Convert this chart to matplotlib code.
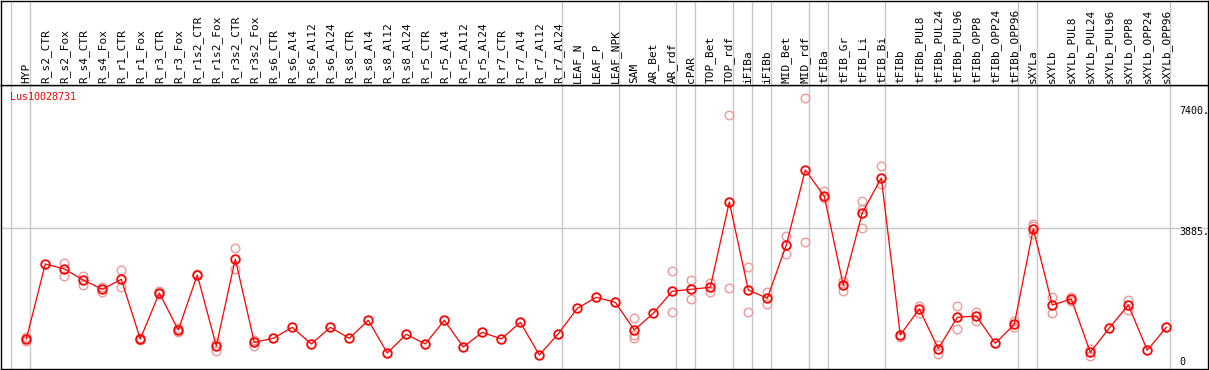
import matplotlib
matplotlib.use("Agg")
import matplotlib.pyplot as plt
import matplotlib.transforms as mtransforms
import numpy as np

categories = ["HYP", "R_s2_CTR", "R_s2_Fox", "R_s4_CTR", "R_s4_Fox", "R_r1_CTR", "R_r1_Fox",
              "R_r3_CTR", "R_r3_Fox", "R_r1s2_CTR", "R_r1s2_Fox", "R_r3s2_CTR", "R_r3s2_Fox",
              "R_s6_CTR", "R_s6_Al4", "R_s6_Al12", "R_s6_Al24", "R_s8_CTR", "R_s8_Al4",
              "R_s8_Al12", "R_s8_Al24", "R_r5_CTR", "R_r5_Al4", "R_r5_Al12", "R_r5_Al24",
              "R_r7_CTR", "R_r7_Al4", "R_r7_Al12", "R_r7_Al24", "LEAF_N", "LEAF_P", "LEAF_NPK",
              "SAM", "AR_Bet", "AR_rdf", "cPAR", "TOP_Bet", "TOP_rdf", "iFIBa", "iFIBb",
              "MID_Bet", "MID_rdf", "tFIBa", "tFIB_Gr", "tFIB_Li", "tFIB_Bi", "tFIBb",
              "tFIBb_PUL8", "tFIBb_PUL24", "tFIBb_PUL96", "tFIBb_OPP8", "tFIBb_OPP24",
              "tFIBb_OPP96", "sXYLa", "sXYLb", "sXYLb_PUL8", "sXYLb_PUL24", "sXYLb_PUL96",
              "sXYLb_OPP8", "sXYLb_OPP24", "sXYLb_OPP96"]

mean_values = [668, 2848, 2703, 2383, 2113, 2403, 668, 2005, 930, 2528, 465, 2993, 572,
               689, 1008, 523, 1008, 689, 1212, 262, 805, 523, 1212, 436, 863, 668, 1154,
               203, 822, 1560, 1880, 1735, 930, 1415, 2055, 2113, 2171, 4650, 2092, 1851,
               3400, 5580, 4815, 2229, 4339, 5347, 785, 1540, 387, 1299, 1337, 543, 1096,
               3865, 1656, 1831, 282, 988, 1656, 340, 1008]

N = None
rep_a = [735, N, 2877, 2508, 2171, 2674, 697, 2063, 979, 2549, 552, 3304, 639,
         N, N, N, N, N, N, N, N, N, N, N, N, N, N, N, N, N, N, N,
         1270, N, 2636, 2374, 2304, 7169, 2761, 2043, 3662, 7663, 4969, 2354, 4679, 5696,
         718, 1636, 494, 1619, 1462, N, 1200, 4002, 1880, 1898, 387, N, 1802, N, N]
rep_b = [619, N, 2508, 2238, 2043, 2171, 639, 1976, 863, N, 328, 2703, 474,
         N, N, N, N, N, N, N, N, N, N, N, N, N, N, N, N, N, N, N,
         689, N, 1444, 1840, 2043, 2142, 1444, 1677, 3138, 3478, 4766, 2072, 3894, 5164,
         N, 1415, 224, 950, 1200, N, 1008, 3952, 1415, 1773, 183, N, 1511, N, N]
rep_c = [N, N, N, N, N, N, N, N, N, N, N, N, N,
         N, N, N, N, N, N, N, N, N, N, N, N, N, N, N, N, N, N, N,
         793, N, N, N, N, N, N, N, N, N, N, N, 4446, N,
         N, N, N, N, N, N, N, 3720, N, N, N, N, N, N, N]

group_ends = ["HYP", "R_r7_Al24", "LEAF_NPK", "AR_rdf", "cPAR", "TOP_rdf", "iFIBa", "iFIBb",
              "MID_rdf", "tFIBa", "tFIB_Bi", "tFIBb_OPP96", "sXYLa", "sXYLb_OPP96"]

gene = "Lus10028731"
ytick_values = [7400, 3885, 0]
ytick_labels = ["7400.", "3885.", "0"]

# ---------------------------------------------------------------
W, H = 1209, 370
fig = plt.figure(figsize=(W / 100, H / 100), dpi=100)
mono = "DejaVu Sans Mono"
RED = "#ff0000"
LIGHT = "#ee9a9a"
GRID = "#c8c8c8"

x = np.arange(len(categories))
px_per_cat = 19.0
x0_px = 26.3
xmin = (1 - x0_px) / px_per_cat
xmax = (1208 - x0_px) / px_per_cat

# main plot axes (pixel rows 85..369)
top_px, bot_px = 85, 369
ax = fig.add_axes([1 / W, 1 - bot_px / H, 1207 / W, (bot_px - top_px) / H])
# header axes (pixel rows 0.5..85)
hax = fig.add_axes([1 / W, 1 - top_px / H, 1207 / W, (top_px - 0.5) / H])

units_per_px = 29.06
zero_px = 362
ax.set_xlim(xmin, xmax)
ax.set_ylim((zero_px - bot_px) * units_per_px, (zero_px - top_px) * units_per_px)
hax.set_xlim(xmin, xmax)
hax.set_ylim(0, 1)

for a in (ax, hax):
    a.set_xticks([])
    a.set_yticks([])
    for s in a.spines.values():
        s.set_color("black")
        s.set_linewidth(1.0)

# separators
sep_positions = [-1] + [categories.index(c) for c in group_ends]
off = 4 / px_per_cat
for p in sep_positions:
    ax.axvline(p + off, color=GRID, lw=1.0, zorder=1)
    hax.axvline(p + off, color=GRID, lw=1.0, zorder=1)

# horizontal grid at middle tick
ax.axhline(ytick_values[1], color=GRID, lw=1.0, zorder=1)

# replicates
for reps in (rep_a, rep_b, rep_c):
    xs = [xi for xi, v in zip(x, reps) if v is not None]
    ys = [v for v in reps if v is not None]
    ax.plot(xs, ys, ls="none", marker="o", ms=6.2, mfc="none", mec=LIGHT, mew=1.0, zorder=2)

# mean line
ax.plot(x, mean_values, color=RED, lw=0.9, marker="o", ms=6.2, mfc="none", mec=RED,
        mew=1.3, zorder=3)

# category labels
for xi, lab in zip(x, categories):
    hax.text(xi, 2 / 84.5, lab, rotation=90, ha="center", va="bottom",
             fontsize=8, family=mono, color="black")

# title
fig.text(10 / W, 1 - 96.7 / H, gene, color=RED, fontsize=7.2, family=mono,
         ha="left", va="center")

# y labels on right
lab_tr = mtransforms.blended_transform_factory(fig.transFigure, ax.transData)
for v, t in zip(ytick_values, ytick_labels):
    dy = -3.4 if v != 0 else 0.0
    tr = lab_tr + mtransforms.ScaledTranslation(0, dy / 100, fig.dpi_scale_trans)
    ax.text(1179 / W, v, t, transform=tr, ha="left", va="center", fontsize=7.2,
            family=mono, color="black", clip_on=False)

fig.savefig("out.png", dpi=100)
